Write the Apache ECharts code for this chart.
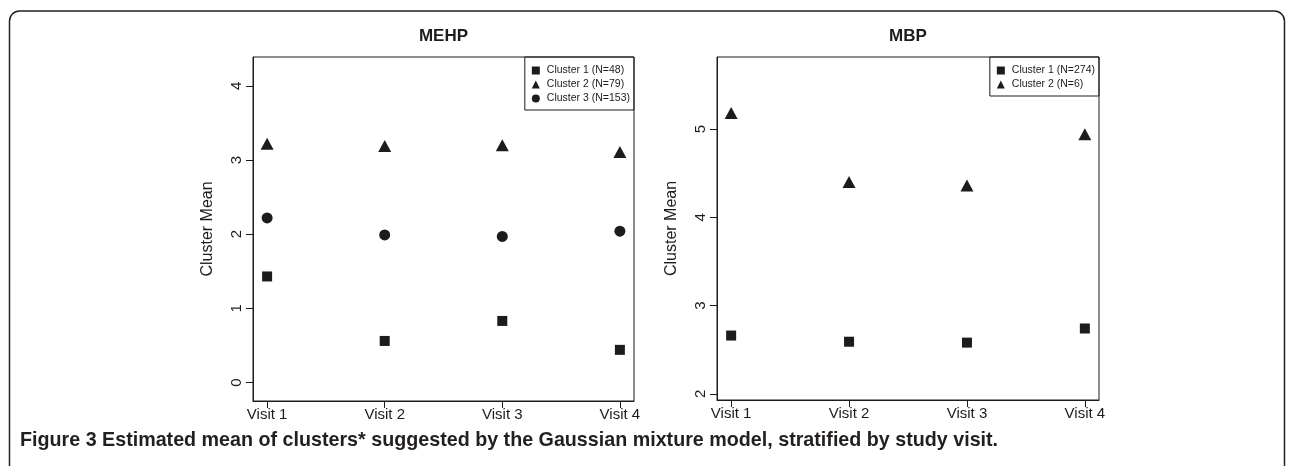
<!DOCTYPE html>
<html>
<head>
<meta charset="utf-8">
<script src="https://cdn.jsdelivr.net/npm/echarts@6/dist/echarts.min.js"></script>
<style>
html,body{margin:0;padding:0;background:#fff;}
#c{width:1290px;height:466px;}
</style>
</head>
<body>
<div id="c"></div>
<script>
// ---- data ----
const categories = ['Visit 1', 'Visit 2', 'Visit 3', 'Visit 4'];
const mehpNames = ['Cluster 1 (N=48)', 'Cluster 2 (N=79)', 'Cluster 3 (N=153)'];
const mehpCluster1 = [1.43, 0.56, 0.83, 0.44];
const mehpCluster2 = [3.22, 3.19, 3.20, 3.11];
const mehpCluster3 = [2.22, 1.99, 1.97, 2.04];
const mbpNames = ['Cluster 1 (N=274)', 'Cluster 2 (N=6)'];
const mbpCluster1 = [2.66, 2.59, 2.58, 2.74];
const mbpCluster2 = [5.18, 4.40, 4.36, 4.94];
const mehpTicks = [0, 1, 2, 3, 4];
const mbpTicks = [2, 3, 4, 5];
const xTicks = [1, 2, 3, 4];
const panelTitles = ['MEHP', 'MBP'];
const yAxisTitle = 'Cluster Mean';
const caption = 'Figure 3 Estimated mean of clusters* suggested by the Gaussian mixture model, stratified by study visit.';

// ---- chart ----
const INK = '#1c1c1c';
const FONT = '"Liberation Sans", Arial, sans-serif';
const chart = echarts.init(document.getElementById('c'), null, {renderer: 'canvas'});

function toPoints(arr) { return arr.map((v, i) => [i + 1, v]); }

function xAxis(gridIndex) {
  return {
    type: 'value', gridIndex, min: 0.88, max: 4.12,
    splitLine: {show: false},
    axisLine: {show: true, onZero: false, lineStyle: {color: INK, width: 1}},
    axisTick: {show: true, length: 7, customValues: xTicks, lineStyle: {color: INK}},
    axisLabel: {customValues: xTicks, margin: 6, color: INK, fontFamily: FONT, fontSize: 15,
      formatter: v => categories[Math.round(v) - 1]}
  };
}
function yAxis(gridIndex, min, max, ticks) {
  return {
    type: 'value', gridIndex, min, max,
    name: yAxisTitle, nameLocation: 'middle', nameGap: 37,
    nameTextStyle: {color: INK, fontFamily: FONT, fontSize: 16},
    splitLine: {show: false},
    axisLine: {show: true, onZero: false, lineStyle: {color: INK, width: 1}},
    axisTick: {show: true, length: 7, customValues: ticks, lineStyle: {color: INK}},
    axisLabel: {customValues: ticks, rotate: 90, margin: 9, color: INK, fontFamily: FONT, fontSize: 15}
  };
}
function scatter(name, data, xi, symbol, size) {
  return {
    type: 'scatter', name, xAxisIndex: xi, yAxisIndex: xi,
    data: toPoints(data), symbol, symbolSize: size,
    itemStyle: {color: INK, opacity: 1}, silent: true, animation: false
  };
}
const legendBase = {
  orient: 'vertical', top: 57, borderColor: INK, borderWidth: 1,
  itemWidth: 8, itemHeight: 8, itemGap: 3, padding: [8, 4, 6, 7],
  textStyle: {color: INK, fontFamily: FONT, fontSize: 10.5, padding: [0, 0, 0, 2]},
  selectedMode: false, itemStyle: {color: INK, opacity: 1}
};

chart.setOption({
  animation: false,
  backgroundColor: '#fff',
  grid: [
    {left: 253, top: 57, width: 381, height: 344, show: true, borderColor: INK, borderWidth: 1, backgroundColor: 'transparent'},
    {left: 717, top: 57, width: 382, height: 343, show: true, borderColor: INK, borderWidth: 1, backgroundColor: 'transparent'}
  ],
  xAxis: [xAxis(0), xAxis(1)],
  yAxis: [yAxis(0, -0.25, 4.39, mehpTicks), yAxis(1, 1.93, 5.815, mbpTicks)],
  legend: [
    Object.assign({}, legendBase, {data: mehpNames, right: 1290 - 634}),
    Object.assign({}, legendBase, {data: mbpNames, right: 1290 - 1099})
  ],
  series: [
    scatter(mehpNames[0], mehpCluster1, 0, 'rect', 10),
    scatter(mehpNames[1], mehpCluster2, 0, 'triangle', [13, 12]),
    scatter(mehpNames[2], mehpCluster3, 0, 'circle', 11),
    scatter(mbpNames[0], mbpCluster1, 1, 'rect', 10),
    scatter(mbpNames[1], mbpCluster2, 1, 'triangle', [13, 12])
  ],
  graphic: [
    {type: 'rect', silent: true, shape: {x: 9.5, y: 11, width: 1275, height: 490, r: 10},
      style: {fill: 'none', stroke: '#222', lineWidth: 1.5}},
    {type: 'text', silent: true, x: 443.5, y: 36.5,
      style: {text: panelTitles[0], textAlign: 'center', textVerticalAlign: 'middle', fill: INK,
        font: 'bold 17px ' + FONT}},
    {type: 'text', silent: true, x: 908, y: 36.5,
      style: {text: panelTitles[1], textAlign: 'center', textVerticalAlign: 'middle', fill: INK,
        font: 'bold 17px ' + FONT}},
    {type: 'text', silent: true, x: 20, y: 441,
      style: {text: caption, textAlign: 'left', textVerticalAlign: 'middle', fill: '#231f20',
        font: 'bold 19.7px "Liberation Sans Narrow", "Arial Narrow", sans-serif'}}
  ]
});
</script>
</body>
</html>
